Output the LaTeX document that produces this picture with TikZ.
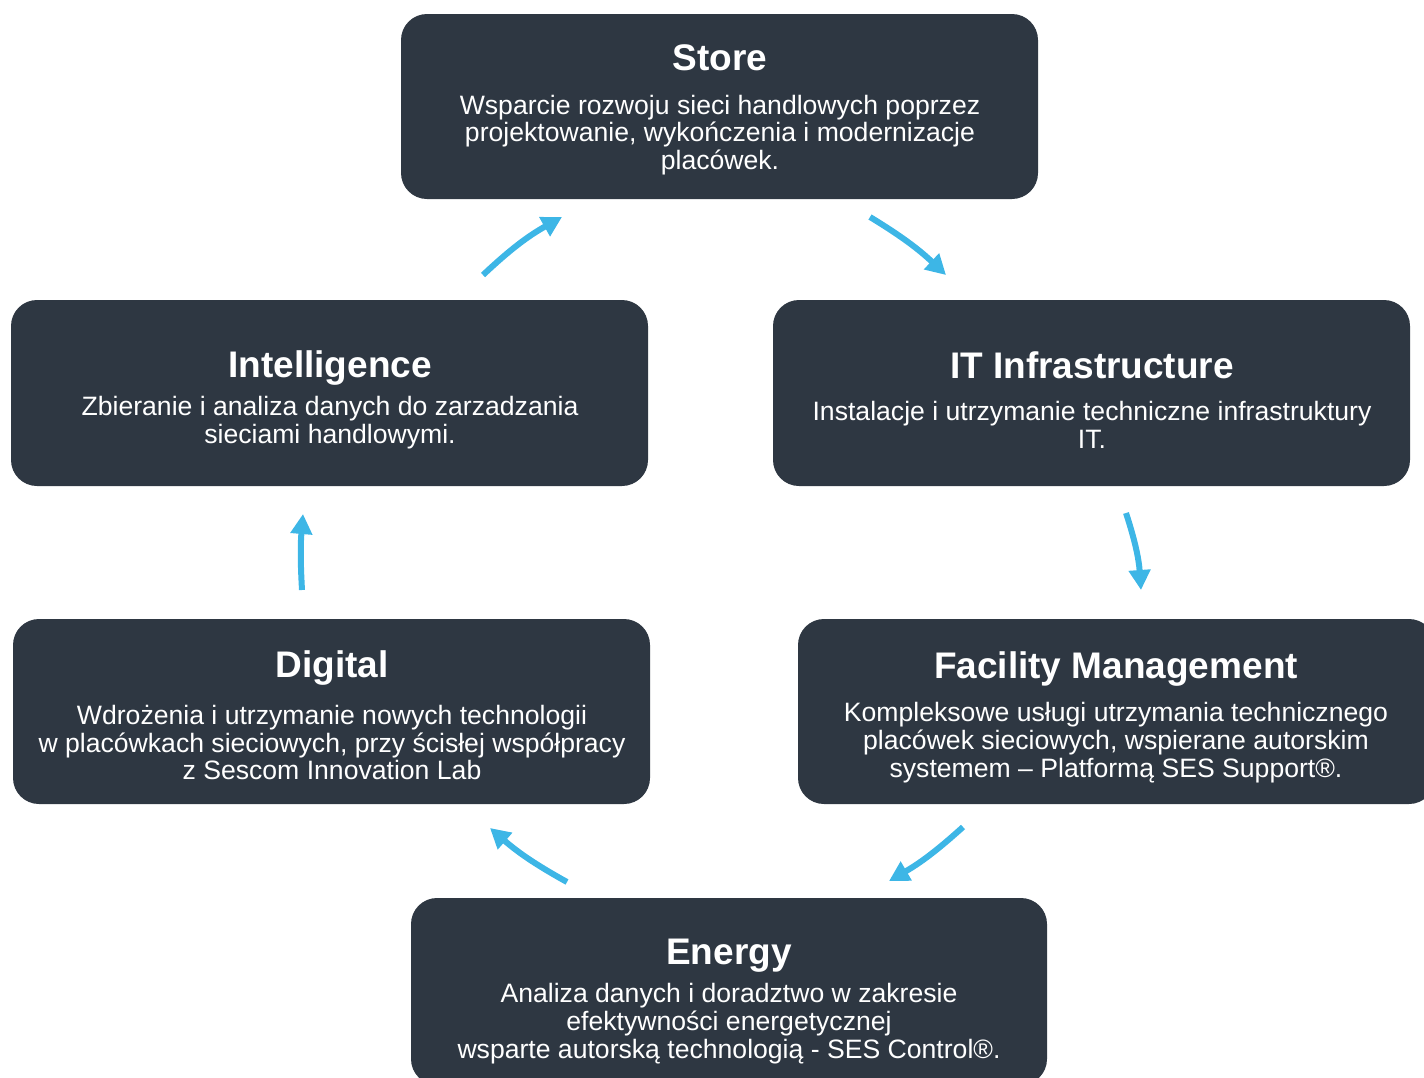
\documentclass[tikz,border=0pt]{standalone}
\usepackage{fontspec}
\setmainfont{Liberation Sans}
\usetikzlibrary{arrows.meta}
\definecolor{cardfill}{HTML}{2E3742}
\definecolor{flow}{HTML}{3DB6E6}
\begin{document}
\begin{tikzpicture}[x=1pt,y=-1pt,
  card/.style={fill=cardfill, draw=none, rounded corners=26pt, inner sep=0pt},
  cardtitle/.style={text=white, inner sep=0pt, text height=26.5pt, text depth=0pt,
    font=\fontsize{37}{41}\selectfont\bfseries},
  cardbody/.style={text=white, inner sep=0pt, align=center,
    font=\fontsize{26.6}{27.8}\selectfont},
  cycle/.style={draw=flow, line width=6pt,
    -{Triangle[length=20pt,width=21pt]}}]
\useasboundingbox (0,0) rectangle (1424,1077);
\clip (0,0) rectangle (1424,1077);

% cards
\node[card, minimum width=637pt, minimum height=185pt] (store)    at (719.5,106.5) {};
\node[card, minimum width=637pt, minimum height=186pt] (intel)    at (329.5,393)   {};
\node[card, minimum width=637pt, minimum height=186pt] (itinfra)  at (1091.5,393)  {};
\node[card, minimum width=637pt, minimum height=185pt] (digital)  at (331.5,711.5) {};
\node[card, minimum width=637pt, minimum height=185pt] (facility) at (1116.5,711.5){};
\node[card, minimum width=636pt, minimum height=187pt] (energy)   at (729,991.5)   {};

% titles
\node[cardtitle] (storeT)    at (720,57)   {Store};
\node[cardtitle] (intelT)    at (330,364)  {Intelligence};
\node[cardtitle] (itinfraT)  at (1092,365) {IT Infrastructure};
\node[cardtitle] (digitalT)  at (332,664)  {Digital};
\node[cardtitle] (facilityT) at (1116,665) {Facility Management};
\node[cardtitle] (energyT)   at (729,951)  {Energy};

% descriptions
\node[cardbody] (storeB) at (720,135)
  {Wsparcie rozwoju sieci handlowych poprzez\\projektowanie, wykończenia i modernizacje\\placówek.};
\node[cardbody] (intelB) at (330,423)
  {Zbieranie i analiza danych do zarzadzania\\sieciami handlowymi.};
\node[cardbody] (itinfraB) at (1092,424.5)
  {Instalacje i utrzymanie techniczne infrastruktury\\IT.};
\node[cardbody] (digitalB) at (332,742.5)
  {Wdrożenia i utrzymanie nowych technologii\\w placówkach sieciowych, przy ścisłej współpracy\\z Sescom Innovation Lab};
\node[cardbody] (facilityB) at (1116,742.5)
  {Kompleksowe usługi utrzymania technicznego\\placówek sieciowych, wspierane autorskim\\systemem – Platformą SES Support®.};
\node[cardbody] (energyB) at (729,1023.5)
  {Analiza danych i doradztwo w zakresie\\efektywności energetycznej\\wsparte autorską technologią - SES Control®.};

% arrow ends
\coordinate (a1s) at (483,275);  \coordinate (a1e) at (562,217);
\coordinate (a2s) at (870,217);  \coordinate (a2e) at (946,275);
\coordinate (a3s) at (1126,513); \coordinate (a3e) at (1141,590);
\coordinate (a4s) at (963,827);  \coordinate (a4e) at (889,881);
\coordinate (a5s) at (567,882);  \coordinate (a5e) at (490,828);
\coordinate (a6s) at (302,590);  \coordinate (a6e) at (303,514);

% clockwise cycle
\draw[cycle] (a1s) to[bend left=7] (a1e);
\draw[cycle] (a2s) to[bend left=6] (a2e);
\draw[cycle] (a3s) to[bend left=7] (a3e);
\draw[cycle] (a4s) to[bend left=6] (a4e);
\draw[cycle] (a5s) to[bend left=6] (a5e);
\draw[cycle] (a6s) to[bend left=4] (a6e);
\end{tikzpicture}
\end{document}
